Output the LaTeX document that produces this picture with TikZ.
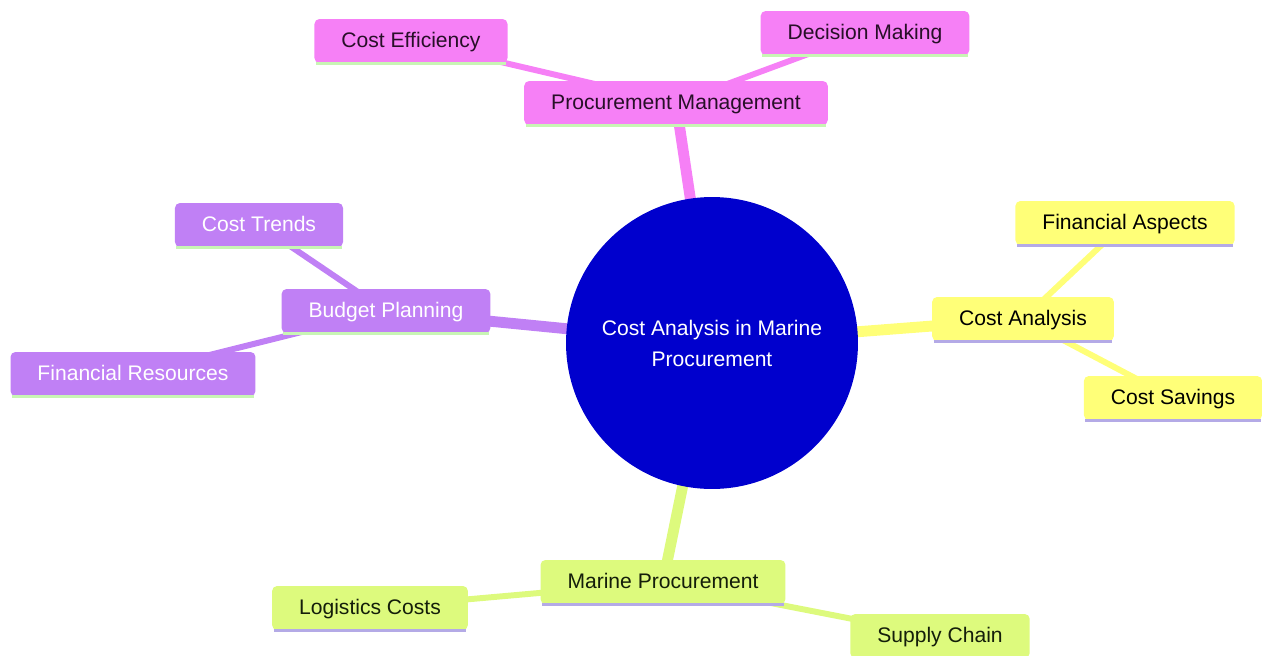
\documentclass[tikz,border=0pt]{standalone}
\usepackage{fontspec}
\setmainfont{Liberation Sans}
\usepackage{tikz}
\usetikzlibrary{positioning,backgrounds}

\definecolor{rootblue}{RGB}{0,0,205}
\definecolor{pinkfill}{RGB}{246,128,246}
\definecolor{yellowfill}{RGB}{255,255,120}
\definecolor{purplefill}{RGB}{192,128,245}
\definecolor{greenfill}{RGB}{221,250,125}
\definecolor{lavline}{RGB}{180,170,230}
\definecolor{mintline}{RGB}{200,245,180}

\tikzset{
  box/.style={rounded corners=2.8pt, inner xsep=0.54cm, minimum height=0.88cm,
    text height=1.5ex, text depth=0.1ex, font=\fontsize{12}{14}\selectfont},
  pinkbox/.style={box, fill=pinkfill, text={rgb,255:red,40;green,15;blue,40}},
  yellowbox/.style={box, fill=yellowfill, text=black},
  purplebox/.style={box, fill=purplefill, text=white},
  greenbox/.style={box, fill=greenfill, text={rgb,255:red,20;green,30;blue,10}},
  trunk/.style={line width=6.2pt},
  twig/.style={line width=3.4pt},
}

\begin{document}
\begin{tikzpicture}[x=0.02cm,y=-0.02cm]
  \useasboundingbox (0,0) rectangle (1262,656);

  % Root
  \node[circle, fill=rootblue, minimum size=5.84cm, text=white, align=center,
        font=\fontsize{12}{17.6}\selectfont] (root) at (712,343)
        {Cost Analysis in Marine\\Procurement};

  % Nodes
  \node[pinkbox] (proc) at (676,103) {Procurement Management};
  \node[pinkbox] (eff) at (411,41) {Cost Efficiency};
  \node[pinkbox] (dec) at (865,33) {Decision Making};

  \node[yellowbox] (ana) at (1023,319) {Cost Analysis};
  \node[yellowbox] (fin) at (1125,223) {Financial Aspects};
  \node[yellowbox] (sav) at (1173,398) {Cost Savings};

  \node[purplebox] (bud) at (386,311) {Budget Planning};
  \node[purplebox] (trend) at (259,225) {Cost Trends};
  \node[purplebox] (res) at (133,374) {Financial Resources};

  \node[greenbox] (mar) at (663,582) {Marine Procurement};
  \node[greenbox] (log) at (370,608) {Logistics Costs};
  \node[greenbox] (sup) at (940,636) {Supply Chain};

  % Underlines
  \foreach \n in {ana,fin,sav,mar,log,sup}
    \draw[lavline, line width=1.6pt] ([xshift=1pt]\n.south west) -- ([xshift=-1pt]\n.south east);
  \foreach \n in {proc,eff,dec,bud,trend,res}
    \draw[mintline, line width=1.6pt] ([xshift=1pt]\n.south west) -- ([xshift=-1pt]\n.south east);

  % Edges
  \begin{pgfonlayer}{background}
    \draw[pinkfill, trunk] (root.center) -- (proc.center);
    \draw[pinkfill, twig] (proc.center) -- (eff.center);
    \draw[pinkfill, twig] (proc.center) -- (dec.center);
    \draw[yellowfill, trunk] (root.center) -- (ana.center);
    \draw[yellowfill, twig] (ana.center) -- (fin.center);
    \draw[yellowfill, twig] (ana.center) -- (sav.center);
    \draw[purplefill, trunk] (root.center) -- (bud.center);
    \draw[purplefill, twig] (bud.center) -- (trend.center);
    \draw[purplefill, twig] (bud.center) -- (res.center);
    \draw[greenfill, trunk] (root.center) -- (mar.center);
    \draw[greenfill, twig] (mar.center) -- (log.center);
    \draw[greenfill, twig] (mar.center) -- (sup.center);
  \end{pgfonlayer}
\end{tikzpicture}
\end{document}
